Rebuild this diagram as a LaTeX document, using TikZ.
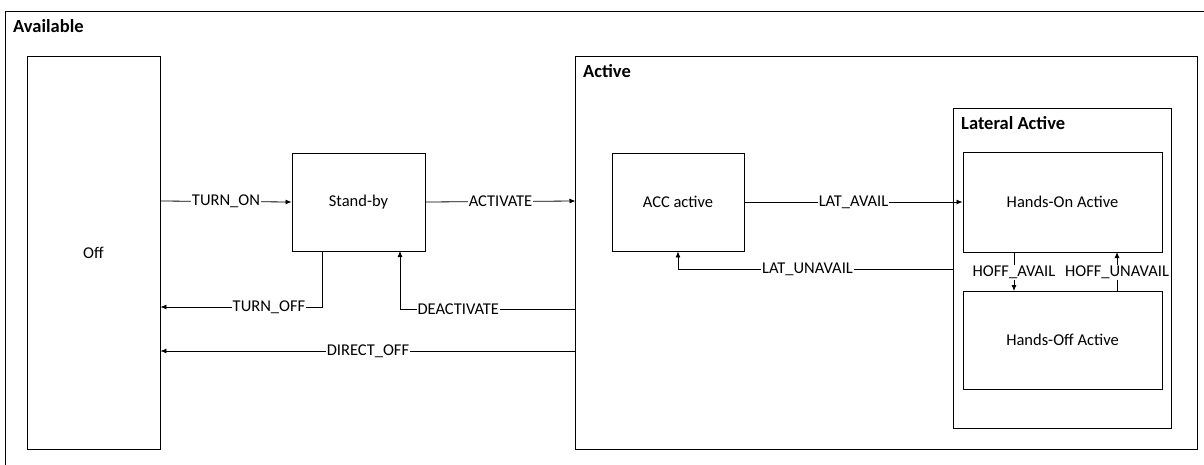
\documentclass[tikz,border=0pt]{standalone}
\usepackage{fontspec}
\setmainfont{Carlito}
\usetikzlibrary{arrows.meta}
\begin{document}
\begin{tikzpicture}[x=1pt,y=-1pt,
  state/.style={draw,line width=0.9pt,fill=white},
  title/.style={font=\fontsize{18.5}{20}\selectfont\bfseries,anchor=north west,inner sep=0pt},
  lbl/.style={font=\fontsize{16.5}{19}\selectfont,fill=white,inner sep=1pt},
  tr/.style={line width=0.8pt,-{Latex[length=6pt,width=5pt]}}]
\useasboundingbox (0,0) rectangle (1204,464);
% outer
\draw[line width=0.9pt] (5.5,11.5) rectangle (1212,472);
\node[title] (tAvail) at (13,19) {Available};
% Active container
\draw[state] (575.5,56.5) rectangle (1197.5,449.5);
\node[title] (tActive) at (583,64) {Active};
% Lateral active container
\draw[state] (953.5,108.5) rectangle (1171,428);
\node[title] (tLat) at (961,116) {Lateral Active};
% states
\node[state,minimum width=133pt,minimum height=393pt,font=\fontsize{16.5}{19}\selectfont] (off) at (93.5,252.5) {Off};
\node[state,minimum width=133pt,minimum height=98pt,font=\fontsize{16.5}{19}\selectfont] (stby) at (358.5,202) {Stand-by};
\node[state,minimum width=132pt,minimum height=98pt,font=\fontsize{16.5}{19}\selectfont] (acc) at (678,202) {ACC active};
\node[state,minimum width=199pt,minimum height=100pt,font=\fontsize{16.5}{19}\selectfont] (hon) at (1062.5,202) {Hands-On Active};
\node[state,minimum width=199pt,minimum height=98pt,font=\fontsize{16.5}{19}\selectfont] (hoff) at (1062.5,340) {Hands-Off Active};
% anchors on containers
\coordinate (actL1) at (575.5,201);
\coordinate (actL2) at (575.5,309);
\coordinate (actL3) at (575.5,351);
\coordinate (latL) at (953.5,269);
% transitions
\draw[tr] (off.east |- 0,201) -- node[lbl] (lTurnOn) {TURN\_ON} (stby.west);
\draw[tr] (stby.east) -- node[lbl] (lActivate) {ACTIVATE} (actL1);
\draw[tr] (322,251) |- node[lbl,pos=0.664] (lTurnOff) {TURN\_OFF} (off.east |- 0,307);
\draw[tr] (actL2) -| node[lbl,pos=0.334] (lDeact) {DEACTIVATE} (400,251);
\draw[tr] (actL3) -- node[lbl,pos=0.5] (lDirect) {DIRECT\_OFF} (off.east |- 0,351);
\draw[tr] (acc.east) -- node[lbl] (lLatAvail) {LAT\_AVAIL} (hon.west);
\draw[tr] (latL) -| node[lbl,pos=0.265] (lLatUn) {LAT\_UNAVAIL} (acc.south);
\draw[tr] (1014,252) -- node[lbl,pos=0.52] (lHoffAv) {HOFF\_AVAIL} (1014,291);
\draw[tr] (1117,291) -- node[lbl,pos=0.48] (lHoffUn) {HOFF\_UNAVAIL} (1117,252);
\end{tikzpicture}
\end{document}
